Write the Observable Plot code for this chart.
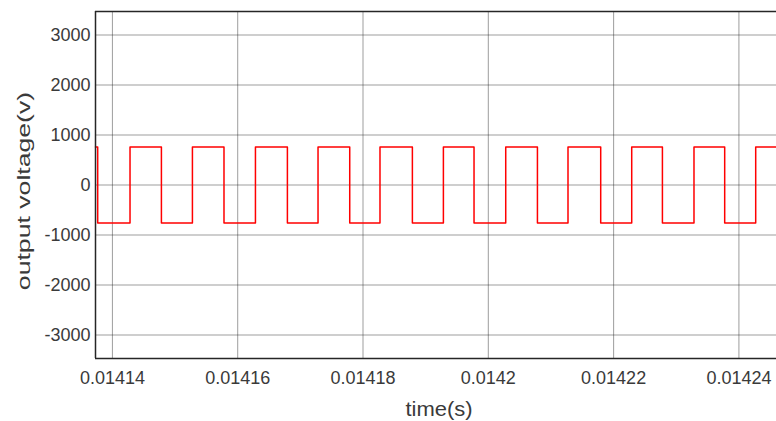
<!DOCTYPE html>
<html>
<head>
<meta charset="utf-8">
<script src="https://cdn.jsdelivr.net/npm/d3@7"></script>
<script src="https://cdn.jsdelivr.net/npm/@observablehq/plot@0.6"></script>
<style>
  html, body { margin: 0; padding: 0; background: #fff; }
  #chart svg { display: block; }
</style>
</head>
<body>
<div id="chart"></div>
<script>
// Step points of the square wave (time in s, voltage in V)
const stepTimes = [
  0.0141373, 0.01413765, 0.01414281, 0.01414782, 0.01415277, 0.01415781,
  0.01416283, 0.01416793, 0.01417282, 0.01417788, 0.01418271, 0.01418788,
  0.01419283, 0.01419772, 0.01420278, 0.01420784, 0.01421272, 0.01421794,
  0.01422289, 0.01422779, 0.01423283, 0.01423773, 0.01424268, 0.014246
];
const stepVolts = [
  760, -760, 760, -760, 760, -760,
  760, -760, 760, -760, 760, -760,
  760, -760, 760, -760, 760, -760,
  760, -760, 760, -760, 760, 760
];

const xTicks = [0.01414, 0.01416, 0.01418, 0.0142, 0.01422, 0.01424];
const xTickLabels = ["0.01414", "0.01416", "0.01418", "0.0142", "0.01422", "0.01424"];
const yTicks = [-3000, -2000, -1000, 0, 1000, 2000, 3000];
const yTickLabels = ["-3000", "-2000", "-1000", "0", "1000", "2000", "3000"];
const xDomain = [0.0141373, 0.014246];
const yDomain = [-3470, 3470];
const xLabel = "time(s)";
const yLabel = "output voltage(v)";

const data = stepTimes.map((t, i) => ({t, v: stepVolts[i]}));

const chart = Plot.plot({
  width: 776,
  height: 421,
  marginLeft: 95,
  marginRight: 0,
  marginTop: 11,
  marginBottom: 63,
  style: {
    fontFamily: "'Liberation Sans', Arial, sans-serif",
    fontSize: "18px",
    color: "#3a3a3a",
    background: "#fff"
  },
  x: {domain: xDomain},
  y: {domain: yDomain},
  marks: [
    Plot.gridX(xTicks, {stroke: "#262626", strokeOpacity: 0.45, strokeWidth: 1}),
    Plot.gridY(yTicks, {stroke: "#262626", strokeOpacity: 0.45, strokeWidth: 1}),
    Plot.line(data, {x: "t", y: "v", curve: "step-after", stroke: "#ff0000", strokeWidth: 1.5}),
    Plot.ruleX([xDomain[0]], {stroke: "#262626", strokeWidth: 1.5}),
    Plot.ruleY([yDomain[0], yDomain[1]], {stroke: "#262626", strokeWidth: 1.5}),
    Plot.axisX(xTicks, {
      tickSize: 0, tickPadding: 13, label: null,
      tickFormat: (d) => xTickLabels[xTicks.indexOf(d)],
      fontSize: 18
    }),
    Plot.axisY(yTicks, {
      tickSize: 0, tickPadding: 5, label: null,
      tickFormat: (d) => yTickLabels[yTicks.indexOf(d)],
      fontSize: 18
    })
  ]
});

document.getElementById("chart").appendChild(chart);

// Axis titles
const svg = d3.select(chart);
svg.append("text")
  .attr("transform", "translate(439,416) scale(1.1,1)")
  .attr("text-anchor", "middle")
  .attr("fill", "#3a3a3a")
  .style("font-size", "20px")
  .style("font-family", "'Liberation Sans', Arial, sans-serif")
  .text(xLabel);
svg.append("text")
  .attr("transform", "translate(30,191) rotate(-90) scale(1.48,1)")
  .attr("text-anchor", "middle")
  .attr("fill", "#3a3a3a")
  .style("font-size", "18px")
  .style("font-family", "'Liberation Sans', Arial, sans-serif")
  .text(yLabel);
</script>
</body>
</html>
